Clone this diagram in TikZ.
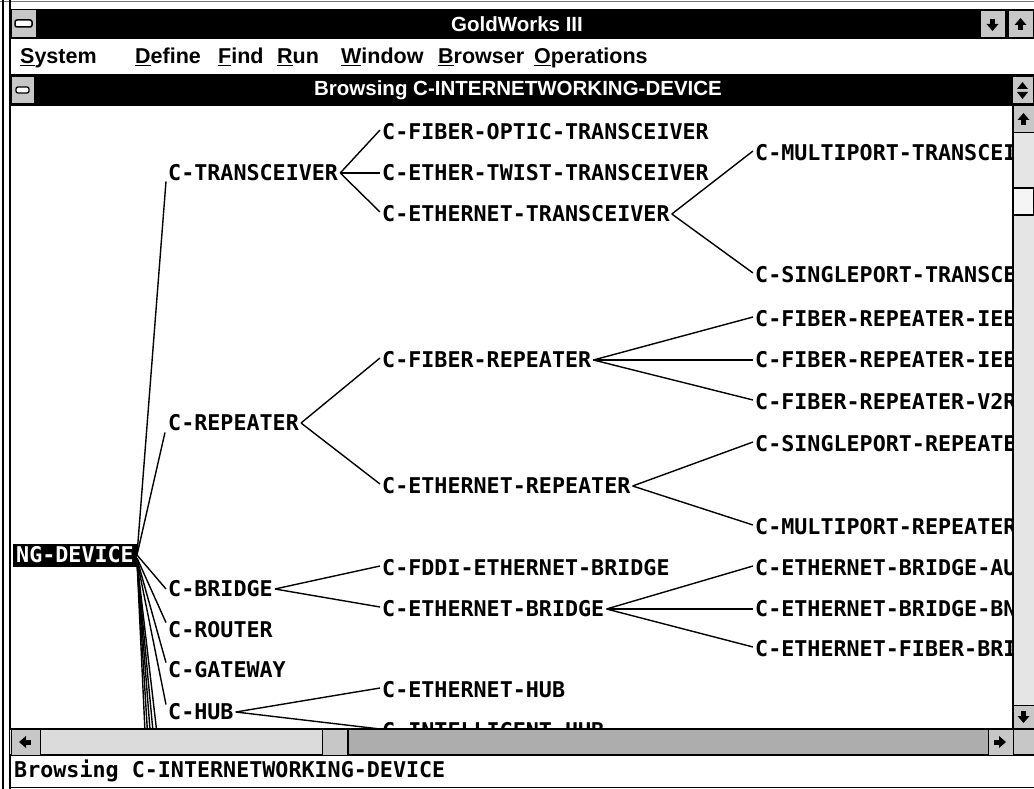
\documentclass[tikz,border=0pt]{standalone}
\usepackage{fontspec}
\setmainfont{Liberation Sans}
\newfontfamily\treefont{DejaVu Sans Mono}
\usetikzlibrary{calc}
\newcommand\myUp[2]{\fill (#1-6,#2+1) -- (#1,#2-6) -- (#1+6,#2+1) -- cycle; \fill (#1-2.5,#2) rectangle (#1+2.5,#2+6);}
\newcommand\myDown[2]{\fill (#1-6,#2-1) -- (#1,#2+6) -- (#1+6,#2-1) -- cycle; \fill (#1-2.5,#2) rectangle (#1+2.5,#2-6);}
\newcommand\myLeft[2]{\fill (#1+1,#2-6) -- (#1-6,#2) -- (#1+1,#2+6) -- cycle; \fill (#1,#2-2.5) rectangle (#1+6,#2+2.5);}
\newcommand\myRight[2]{\fill (#1-1,#2-6) -- (#1+6,#2) -- (#1-1,#2+6) -- cycle; \fill (#1,#2-2.5) rectangle (#1-6,#2+2.5);}
\begin{document}
\begin{tikzpicture}[x=1pt,y=-1pt,
  lbl/.style={font={\fontsize{21.7}{24}\treefont\bfseries}, inner sep=0pt, anchor=west},
  link/.style={line width=1.4pt},
  menu/.style={font={\fontsize{21.5}{24}\selectfont\bfseries}, inner sep=0pt, anchor=base west},
  bartitle/.style={font={\fontsize{20.5}{24}\selectfont\bfseries}, text=white, inner sep=0pt},
  btn/.style={fill=black!22, draw=black, line width=1pt},
  frameline/.style={line width=1.2pt}]
\useasboundingbox (0,0) rectangle (1034,789);
\fill[white] (0,0) rectangle (1034,789);
% ---- outer frame
\draw[black!55, line width=1pt] (0,2) -- (1034,2);
\draw[line width=1.6pt] (3,0) -- (3,789);
\draw[line width=1.2pt] (10,0) -- (10,789);
% ---- title bar
\fill (10,9) rectangle (1034,39);
\draw[btn] (11,10) rectangle (36,38);
\draw[fill=white, line width=1.5pt, rounded corners=2pt] (15,20) rectangle (32,27);
\node[bartitle] (title) at (517,24) {GoldWorks III};
\draw[btn] (980,11) rectangle (1005,38);
\myDown{992.5}{25}
\draw[btn] (1008,11) rectangle (1033,38);
\myUp{1020.5}{24}
% ---- menu bar
\fill[white] (11,39) rectangle (1034,74);
\draw[frameline] (10,74.5) -- (1034,74.5);
\node[menu] (m1) at (20,64) {\underline{S}ystem};
\node[menu] (m2) at (135,64) {\underline{D}efine};
\node[menu] (m3) at (218,64) {\underline{F}ind};
\node[menu] (m4) at (277,64) {\underline{R}un};
\node[menu] (m5) at (341,64) {\underline{W}indow};
\node[menu] (m6) at (438,64) {\underline{B}rowser};
\node[menu] (m7) at (534,64) {\underline{O}perations};
% ---- browsing bar
\fill (10,75) rectangle (1034,106);
\draw[btn] (11,77) rectangle (34,104);
\draw[fill=white, line width=1.3pt, rounded corners=2pt] (16,87) rectangle (29,93);
\node[bartitle] (btitle) at (518,90) {Browsing C-INTERNETWORKING-DEVICE};
\draw[btn] (1012,77) rectangle (1033,104);
\fill (1017,89) -- (1022.5,82) -- (1028,89) -- cycle;
\fill (1017,92) -- (1022.5,99) -- (1028,92) -- cycle;
% ---- vertical scrollbar
\fill[black!10] (1013,106) rectangle (1034,729);
\draw[frameline] (1013,106) -- (1013,729);
\draw[btn] (1013,106) rectangle (1034,133);
\myUp{1023.5}{119}
\draw[fill=black!4, line width=1.4pt] (1013,188) rectangle (1034,215);
\draw[btn] (1013,705) rectangle (1034,729);
\myDown{1023.5}{717}
% ---- horizontal scrollbar
\fill[black!14] (10,729) rectangle (322,755);
\fill[black!32] (348,729) rectangle (1013,755);
\fill[black!22] (1013,729) rectangle (1034,755);
\draw[frameline] (10,729) -- (1034,729);
\draw[frameline] (10,755) -- (1034,755);
\draw[btn] (11,729) rectangle (40,755);
\myLeft{25}{742}
\draw[fill=black!22, line width=1pt] (322,729) rectangle (348,755);
\draw[line width=2.5pt] (348,729) -- (348,755);
\draw[btn] (988,729) rectangle (1013,755);
\myRight{1000}{742}
% ---- status bar
\node[lbl] (status) at (14,771) {Browsing C-INTERNETWORKING-DEVICE};
\draw[line width=1.6pt] (10,787.5) -- (1034,787.5);
% ---- tree
\begin{scope}
\clip (11,107) rectangle (1012.5,729);
\node[lbl, fill=black, text=white, inner xsep=3pt, minimum height=23pt] (root) at (13,555) {NG-DEVICE};
\node[lbl] (t1) at (168,173) {C-TRANSCEIVER};
\node[lbl] (t2) at (168,423) {C-REPEATER};
\node[lbl] (t3) at (168,589) {C-BRIDGE};
\node[lbl] (t4) at (168,630) {C-ROUTER};
\node[lbl] (t5) at (168,670) {C-GATEWAY};
\node[lbl] (t6) at (168,712) {C-HUB};
\node[lbl] (a1) at (382,132) {C-FIBER-OPTIC-TRANSCEIVER};
\node[lbl] (a2) at (382,173) {C-ETHER-TWIST-TRANSCEIVER};
\node[lbl] (a3) at (382,214) {C-ETHERNET-TRANSCEIVER};
\node[lbl] (b1) at (382,360) {C-FIBER-REPEATER};
\node[lbl] (b2) at (382,486) {C-ETHERNET-REPEATER};
\node[lbl] (c1) at (382,568) {C-FDDI-ETHERNET-BRIDGE};
\node[lbl] (c2) at (382,609) {C-ETHERNET-BRIDGE};
\node[lbl] (d1) at (382,690) {C-ETHERNET-HUB};
\node[lbl] (d2) at (382,731) {C-INTELLIGENT-HUB};
\node[lbl] (e1) at (755,153) {C-MULTIPORT-TRANSCEI};
\node[lbl] (e2) at (755,275) {C-SINGLEPORT-TRANSCE};
\node[lbl] (f1) at (755,319) {C-FIBER-REPEATER-IEE};
\node[lbl] (f2) at (755,360) {C-FIBER-REPEATER-IEE};
\node[lbl] (f3) at (755,402) {C-FIBER-REPEATER-V2R};
\node[lbl] (g1) at (755,444) {C-SINGLEPORT-REPEATE};
\node[lbl] (g2) at (755,527) {C-MULTIPORT-REPEATER};
\node[lbl] (h1) at (755,568) {C-ETHERNET-BRIDGE-AU};
\node[lbl] (h2) at (755,609) {C-ETHERNET-BRIDGE-BN};
\node[lbl] (h3) at (755,649) {C-ETHERNET-FIBER-BRI};
\coordinate (x1) at (167,820);
\coordinate (x2) at (167,880);
\coordinate (x3) at (167,950);
\coordinate (x4) at (167,1050);
\coordinate (x5) at (167,1200);
% root links
\draw[link] (root.east) -- ($(t1.south west)+(-2,0)$);
\draw[link] (root.east) -- ($(t2.south west)+(-3,1)$);
\draw[link] (root.east) -- ($(t3.west)+(-2,0)$);
\draw[link] ($(root.east)+(0,3)$) -- ($(t4.north west)+(-2,1)$);
\draw[link] ($(root.east)+(0,4)$) -- ($(t5.north west)+(-2,1)$);
\draw[link] ($(root.east)+(0,5)$) -- ($(t6.north west)+(-2,1)$);
\foreach \n in {x1,x2,x3,x4,x5}{\draw[link] ($(root.east)+(0,6)$) -- (\n);}
% level 1 -> 2
\draw[link] ($(t1.east)+(2,0)$) -- ($(a1.west)+(-2,-2)$);
\draw[link] ($(t1.east)+(2,0)$) -- ($(a2.west)+(-2,0)$);
\draw[link] ($(t1.east)+(2,0)$) -- ($(a3.west)+(-2,-2)$);
\draw[link] ($(t2.east)+(2,0)$) -- ($(b1.west)+(-2,-2)$);
\draw[link] ($(t2.east)+(2,0)$) -- ($(b2.west)+(-2,-2)$);
\draw[link] ($(t3.east)+(2,0)$) -- ($(c1.west)+(-2,-2)$);
\draw[link] ($(t3.east)+(2,0)$) -- ($(c2.west)+(-2,-2)$);
\draw[link] ($(t6.east)+(2,0)$) -- ($(d1.west)+(-2,-2)$);
\draw[link] ($(t6.east)+(2,0)$) -- ($(d2.west)+(-2,-2)$);
% level 2 -> 3
\draw[link] ($(a3.east)+(2,0)$) -- ($(e1.west)+(-2,-2)$);
\draw[link] ($(a3.east)+(2,0)$) -- ($(e2.west)+(-2,-2)$);
\draw[link] ($(b1.east)+(2,0)$) -- ($(f1.west)+(-2,-2)$);
\draw[link] ($(b1.east)+(2,0)$) -- ($(f2.west)+(-2,0)$);
\draw[link] ($(b1.east)+(2,0)$) -- ($(f3.west)+(-2,-2)$);
\draw[link] ($(b2.east)+(2,0)$) -- ($(g1.west)+(-2,-2)$);
\draw[link] ($(b2.east)+(2,0)$) -- ($(g2.west)+(-2,-2)$);
\draw[link] ($(c2.east)+(2,0)$) -- ($(h1.west)+(-2,-2)$);
\draw[link] ($(c2.east)+(2,0)$) -- ($(h2.west)+(-2,0)$);
\draw[link] ($(c2.east)+(2,0)$) -- ($(h3.west)+(-2,-2)$);
\end{scope}
\end{tikzpicture}
\end{document}
